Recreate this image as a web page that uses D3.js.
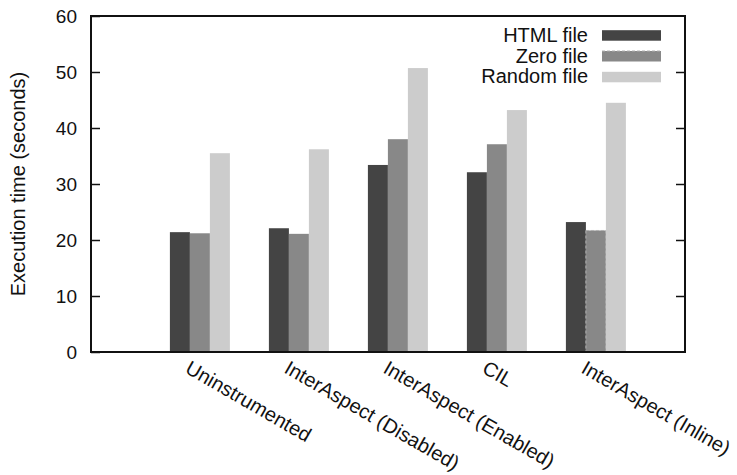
<!DOCTYPE html>
<html>
<head>
<meta charset="utf-8">
<script src="https://cdn.jsdelivr.net/npm/d3@7"></script>
<style>
  body { margin: 0; background: #fff; }
  svg text { font-family: "Liberation Sans", Arial, sans-serif; fill: #111; }
</style>
</head>
<body>
<div id="chart"></div>
<script>
const categories = ["Uninstrumented", "InterAspect (Disabled)", "InterAspect (Enabled)", "CIL", "InterAspect (Inline)"];
const seriesNames = ["HTML file", "Zero file", "Random file"];
const htmlFile = [21.4, 22.1, 33.4, 32.1, 23.2];
const zeroFile = [21.2, 21.1, 38.0, 37.1, 21.7];
const randomFile = [35.5, 36.2, 50.7, 43.2, 44.5];
const yTicks = [0, 10, 20, 30, 40, 50, 60];

const seriesValues = [htmlFile, zeroFile, randomFile];
const colors = ["#444444", "#888888", "#cccccc"];

const width = 737, height = 475;
const margin = {left: 91, right: 52, top: 16, bottom: 123};
const fontSize = 20;

const svg = d3.select("#chart").append("svg")
    .attr("width", width)
    .attr("height", height);

// group centres sit at 0..4, the axis runs a little past them
const xScale = d3.scaleLinear().domain([-1.1, 4.9]).range([margin.left, width - margin.right]);
const yScale = d3.scaleLinear().domain([0, 60]).range([height - margin.bottom, margin.top]);
const barW = 20;

categories.forEach((cat, i) => {
    seriesValues.forEach((vals, s) => {
        const x0 = xScale(i) - 1.5 * barW + s * barW;
        const bar = svg.append("rect")
            .attr("x", x0)
            .attr("y", yScale(vals[i]))
            .attr("width", barW)
            .attr("height", yScale(0) - yScale(vals[i]))
            .attr("fill", colors[s]);
        if (s === 1 && cat === "InterAspect (Inline)") {
            bar.attr("stroke", "#b0b0b0")
                .attr("stroke-width", 1)
                .attr("stroke-dasharray", "3,2");
        }
    });
});

// frame
svg.append("rect")
    .attr("x", xScale.range()[0])
    .attr("y", yScale(60))
    .attr("width", xScale.range()[1] - xScale.range()[0])
    .attr("height", yScale(0) - yScale(60))
    .attr("fill", "none")
    .attr("stroke", "#111")
    .attr("stroke-width", 2);

const yAxis = d3.axisLeft(yScale).tickValues(yTicks).tickSize(-9).tickPadding(14);
const yG = svg.append("g")
    .attr("transform", `translate(${margin.left},0)`)
    .call(yAxis);
yG.select(".domain").remove();
yG.selectAll("line").attr("stroke", "#111").attr("stroke-width", 1.5);
yG.selectAll("text").style("font-size", "19px").style("font-family", "Liberation Sans, Arial, sans-serif").attr("fill", "#111");

const yAxisR = d3.axisRight(yScale).tickValues(yTicks.slice(1, -1)).tickSize(-9).tickFormat("");
const yGR = svg.append("g")
    .attr("transform", `translate(${width - margin.right},0)`)
    .call(yAxisR);
yGR.select(".domain").remove();
yGR.selectAll("line").attr("stroke", "#111").attr("stroke-width", 1.5);

// y label
svg.append("text")
    .attr("transform", `translate(25,${(yScale(0) + yScale(60)) / 2}) rotate(-90)`)
    .attr("text-anchor", "middle")
    .style("font-size", fontSize + "px")
    .text("Execution time (seconds)");

// rotated category labels
svg.selectAll(".xlab")
    .data(categories)
    .enter()
    .append("text")
    .attr("class", "xlab")
    .attr("transform", (d, i) => `translate(${xScale(i) - 16},${yScale(0) + 20}) rotate(30)`)
    .attr("text-anchor", "start")
    .style("font-size", fontSize + "px")
    .text(d => d);

// legend
const legend = svg.append("g");
seriesNames.forEach((name, s) => {
    const base = 41.7 + s * 20.8;
    legend.append("text")
        .attr("x", 588)
        .attr("y", base)
        .attr("text-anchor", "end")
        .style("font-size", fontSize + "px")
        .text(name);
    legend.append("rect")
        .attr("x", 602)
        .attr("y", base - 11.5)
        .attr("width", 59)
        .attr("height", 10.5)
        .attr("fill", colors[s]);
    if (s === 1) {
        legend.append("line")
            .attr("x1", 602).attr("x2", 661)
            .attr("y1", base - 11.5).attr("y2", base - 11.5)
            .attr("stroke", "#b0b0b0")
            .attr("stroke-dasharray", "3,2");
    }
});
</script>
</body>
</html>
